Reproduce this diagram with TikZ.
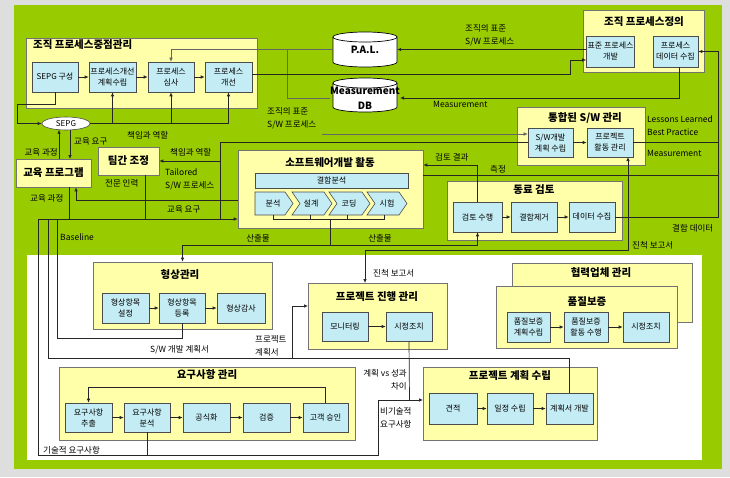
\documentclass[tikz,border=0pt]{standalone}
\usepackage{fontspec}
\setmainfont{Noto Sans CJK KR}
\usetikzlibrary{arrows.meta,shapes.geometric}
\definecolor{grn}{RGB}{153,204,0}
\definecolor{yel}{RGB}{255,255,170}
\definecolor{cyn}{RGB}{196,236,244}
\definecolor{bgg}{RGB}{222,222,222}
\newcommand\fsA{\fontsize{8}{11}\selectfont}
\newcommand\fsL{\fontsize{8.5}{11}\selectfont}
\newcommand\fsT{\fontsize{10.5}{12}\selectfont\bfseries}
\newcommand\mkbox[7]{%
  \pgfmathsetmacro\mbcx{(#3+#5)/2}\pgfmathsetmacro\mbcy{(#4+#6)/2}%
  \pgfmathsetmacro\mbw{#5-#3}\pgfmathsetmacro\mbh{#6-#4}%
  \node[#1,minimum width=\mbw pt,minimum height=\mbh pt] (#2) at (\mbcx,\mbcy) {#7};}
\tikzset{
  ybox/.style={draw=black!55, fill=yel, line width=0.6pt, rectangle, inner sep=2pt},
  bbox/.style={draw=black!70, fill=cyn, line width=0.6pt, rectangle, align=center, font=\fsA, inner sep=1pt},
  chev/.style={draw=black!70, fill=cyn, line width=0.6pt},
  cyl/.style={draw=black, fill=white, line width=0.7pt},
  lab/.style={font=\fsL, inner sep=0pt, align=left},
  ttl/.style={font=\fsT, inner sep=0pt},
  ln/.style={draw=black!85, line width=0.7pt},
  lnthin/.style={draw=black!60, line width=0.5pt},
  arr/.style={ln, -{Latex[length=4pt,width=3.5pt]}},
  arrthin/.style={lnthin, -{Latex[length=4pt,width=3.5pt]}},
}
\begin{document}
\begin{tikzpicture}[x=1pt,y=-1pt]
\useasboundingbox (0,0) rectangle (730,477);
\fill[bgg] (0,0) rectangle (730,477);
\fill[grn] (14,5) rectangle (722,469);
\fill[white] (27,255) rectangle (702,460);

% yellow boxes
\mkbox{ybox}{Y1}{26}{38}{257}{108}{}
\mkbox{ybox}{Y2}{583}{10}{704}{72}{}
\mkbox{ybox}{Y3}{517}{107}{645}{165}{}
\mkbox{ybox}{Y4}{238}{150}{423}{228}{}
\mkbox{ybox}{Y5}{447}{181}{622}{240}{}
\mkbox{ybox}{Y6}{93}{262}{272}{329}{}
\mkbox{ybox}{Y7}{308}{283}{447}{349}{}
\mkbox{ybox}{Y8}{512}{263}{692}{322}{}
\mkbox{ybox}{Y9}{496}{286}{677}{348}{}
\mkbox{ybox}{Y10}{59}{367}{355}{440}{}
\mkbox{ybox}{Y11}{423}{367}{597}{440}{}
\mkbox{ybox,font=\fsT}{edu}{16}{159}{91}{187}{교육 프로그램}
\mkbox{ybox,font=\fsT}{team}{98}{147}{159}{175}{팀간 조정}

% titles
\node[ttl, anchor=west] (t1) at (33,45) {조직 프로세스중점관리};
\node[ttl] (t2) at (644,22) {조직 프로세스정의};
\node[ttl] (t3) at (585,118) {통합된 S/W 관리};
\node[ttl] (t4) at (330,163) {소프트웨어개발 활동};
\node[ttl] (t5) at (534,190) {동료 검토};
\node[ttl] (t6) at (180,275) {형상관리};
\node[ttl] (t7) at (377,297) {프로젝트 진행 관리};
\node[ttl] (t8) at (601,273) {협력업체 관리};
\node[ttl] (t9) at (587,302) {품질보증};
\node[ttl] (t10) at (207,375) {요구사항 관리};
\node[ttl] (t11) at (510,376) {프로젝트 계획 수립};

% blue boxes
\mkbox{bbox}{b11}{32}{62}{78}{92}{SEPG 구성}
\mkbox{bbox}{b12}{89}{62}{136}{92}{프로세스개선\\계획수립}
\mkbox{bbox}{b13}{148}{62}{194}{92}{프로세스\\심사}
\mkbox{bbox}{b14}{205}{62}{252}{92}{프로세스\\개선}
\mkbox{bbox}{b21}{588}{36}{633}{67}{표준 프로세스\\개발}
\mkbox{bbox}{b22}{653}{36}{698}{67}{프로세스\\데이터 수집}
\mkbox{bbox}{b31}{528}{128}{573}{157}{S/W개발\\계획 수립}
\mkbox{bbox}{b32}{587}{128}{633}{157}{프로젝트\\활동 관리}
\mkbox{bbox}{bar}{255}{173}{408}{188}{결함분석}
\mkbox{bbox}{b51}{453}{202}{502}{232}{검토 수행}
\mkbox{bbox}{b52}{511}{202}{557}{232}{결함제거}
\mkbox{bbox}{b53}{569}{202}{615}{232}{데이터 수집}
\mkbox{bbox}{b61}{102}{293}{149}{323}{형상항목\\설정}
\mkbox{bbox}{b62}{159}{293}{205}{323}{형상항목\\등록}
\mkbox{bbox}{b63}{217}{293}{265}{323}{형상감사}
\mkbox{bbox}{b71}{322}{312}{368}{341}{모니터링}
\mkbox{bbox}{b72}{386}{312}{432}{341}{시정조치}
\mkbox{bbox}{b91}{507}{312}{550}{342}{품질보증\\계획수립}
\mkbox{bbox}{b92}{564}{312}{608}{342}{품질보증\\활동 수행}
\mkbox{bbox}{b93}{623}{312}{669}{342}{시정조치}
\mkbox{bbox}{b101}{65}{403}{112}{432}{요구사항\\추출}
\mkbox{bbox}{b102}{124}{403}{170}{432}{요구사항\\분석}
\mkbox{bbox}{b103}{183}{403}{230}{432}{공식화}
\mkbox{bbox}{b104}{243}{403}{290}{432}{검증}
\mkbox{bbox}{b105}{303}{403}{348}{432}{고객 승인}
\mkbox{bbox}{b111}{429}{393}{477}{424}{견적}
\mkbox{bbox}{b112}{487}{393}{533}{424}{일정 수립}
\mkbox{bbox}{b113}{546}{393}{593}{424}{계획서 개발}

% chevrons
\draw[chev] (255,192) -- (285,192) -- (293,203.5) -- (285,215) -- (255,215) -- cycle;
\draw[chev] (292,192) -- (324,192) -- (332,203.5) -- (324,215) -- (292,215) -- (300,203.5) -- cycle;
\draw[chev] (329,192) -- (362,192) -- (370,203.5) -- (362,215) -- (329,215) -- (337,203.5) -- cycle;
\draw[chev] (367,192) -- (399,192) -- (407,203.5) -- (399,215) -- (367,215) -- (375,203.5) -- cycle;
\node[font=\fsA, inner sep=0pt] (c1) at (273,203.5) {분석};
\node[font=\fsA, inner sep=0pt] (c2) at (311,203.5) {설계};
\node[font=\fsA, inner sep=0pt] (c3) at (349,203.5) {코딩};
\node[font=\fsA, inner sep=0pt] (c4) at (387,203.5) {시험};

% SEPG ellipse
\node[draw=black!70, fill=white, ellipse, minimum width=48pt, minimum height=13pt, inner sep=0pt, font=\fsA, line width=0.6pt] (sepg) at (66,123.5) {SEPG};

% cylinders
\path[cyl] (333,37) -- (333,62) arc[start angle=180, end angle=360, x radius=32pt, y radius=5pt] -- (397,37) arc[start angle=0, end angle=180, x radius=32pt, y radius=5pt] -- cycle;
\draw[cyl, fill=none] (333,37) arc[start angle=180, end angle=360, x radius=32pt, y radius=5pt];
\path[cyl] (333,83) -- (333,107) arc[start angle=180, end angle=360, x radius=32pt, y radius=5pt] -- (397,83) arc[start angle=0, end angle=180, x radius=32pt, y radius=5pt] -- cycle;
\draw[cyl, fill=none] (333,83) arc[start angle=180, end angle=360, x radius=32pt, y radius=5pt];
\node[inner sep=0pt, minimum width=64pt, minimum height=30pt, font=\fontsize{10}{11}\selectfont\bfseries] (pal) at (365,49.5) {P.A.L.};
\node[inner sep=0pt, minimum width=64pt, minimum height=30pt, align=center, font=\fontsize{10}{11}\selectfont\bfseries] (db) at (365,98) {Measurement\\[4pt]DB};

% connectors: 조직 프로세스중점관리
\draw[arr] (b11) -- (b12);
\draw[arr] (b12) -- (b13);
\draw[arr] (b13) -- (b14);
\draw[arr] (b11.south) |- (17,104) |- (sepg.west);
\draw[ln] (sepg.east) -- (b14.south |- sepg.east);
\draw[arr] (b12.south |- sepg.east) -- (b12.south);
\draw[arr] (b13.south |- sepg.east) -- (b13.south);
\draw[arr] (b14.south |- sepg.east) -- (b14.south);
\draw[arrthin] (pal.west) -| (b13.north);
\draw[lnthin] (db.west) -| (287,49.5);
\draw[arr] ([yshift=3pt]b14.east) -- (570,74) |- ([yshift=-8.5pt]b21.west);
\draw[arr] (b21.west |- pal.east) -- (pal.east);
\draw[arr] ([xshift=4pt]b22.south) |- (db.east);

% right side
\draw[arr] (b53.east) -- (718,217) |- (b22.east);
\draw[ln] (b32.east) -- (718,142.5);
\draw[ln] ([yshift=14pt]Y4.east) -- (718,175);
\draw[arr] (b31) -- (b32);
\draw[arr] (b51) -- (b52);
\draw[arr] (b52) -- (b53);
\draw[arr] (b51.north) |- ([yshift=24pt]Y4.east);
\coordinate (stdin) at (322,134);
\draw[arrthin] (stdin) -- (b31.west |- stdin);

% 산출물
\draw[ln] (273,215) -- (273,219) -- (384,219) -- (384,215);
\draw[ln] (310,215) -- (310,219);
\draw[ln] (347,215) -- (347,219);
\draw[ln] (330,219) -- (330,245);
\draw[arr] (330,245) -| (b51.south);
\draw[arr] (330,245) -| (Y6.north);

% 진척 보고서
\draw[arr] (365,250) -- (365,283);
\draw[arr] (365,250) -- (628,250) -- (628,157);

% left side merges
\draw[ln] (b31.west) -- (220,142.5) -- (220,219);
\draw[arr] (220,161) -- (team.east);
\draw[arr] (38,219) -- ([yshift=-30pt]Y4.west);
\draw[ln] ([xshift=15.5pt]edu.south) -- (69,219);
\draw[ln] ([xshift=16.5pt]team.south) -- (145,219);
\draw[arr] ([yshift=-11pt]Y4.west) -- (76,200) -- ([xshift=22.5pt]edu.south);
\draw[arr] ([xshift=5.5pt]edu.north) -- (59,129.7);
\draw[arr] (70,129.9) -- (70,159);

% lower region
\draw[arr] (b61) -- (b62);
\draw[arr] (b62) -- (b63);
\draw[arr] (b71) -- (b72);
\draw[arr] (b91) -- (b92);
\draw[arr] (b92) -- (b93);
\draw[arr] (b101) -- (b102);
\draw[arr] (b102) -- (b103);
\draw[arr] (b103) -- (b104);
\draw[arr] (b104) -- (b105);
\draw[arr] (b111) -- (b112);
\draw[arr] (b112) -- (b113);
\draw[ln] (b62.south) -- (182,338) -- (57,338) -- (57,219);
\draw[ln] (b113.north) -- (569.5,358) -- (48,358) -- (48,219);
\draw[arr] (292,358) -- (292,306) -- (308,306);
\draw[ln] (b102.south) -- (147,455) -- (38,455) -- (38,219);
\draw[arr] (147,455) -- (378,455) -- (378,400) -- (423,400);
\draw[ln] (b72.south) -- (409.5,400);
\draw[arr] (b105.north) -- (325.5,387) -- (88.5,387) -- (b101.north);

% labels
\node[lab, anchor=east] (l1) at (58,152) {교육 과정};
\node[lab, anchor=west] (l2) at (74,141) {교육 요구};
\node[lab, anchor=west] (l3) at (127,135) {책임과 역할};
\node[lab, anchor=west] (l4) at (170,152) {책임과 역할};
\node[lab, anchor=west] (l5) at (165,179.5) {Tailored\\[2pt]S/W 프로세스};
\node[lab, anchor=west] (l6) at (105,183) {전문 인력};
\node[lab, anchor=west] (l7) at (30,198) {교육 과정};
\node[lab, anchor=west] (l8) at (167,209) {교육 요구};
\node[lab, anchor=west] (l9) at (60,237) {Baseline};
\node[lab, anchor=west] (l10) at (267,118.5) {조직의 표준\\[2pt]S/W 프로세스};
\node[lab, anchor=west] (l11) at (465,35) {조직의 표준\\[2pt]S/W 프로세스};
\node[lab, anchor=west] (l12) at (433,104) {Measurement};
\node[lab, anchor=west] (l13) at (647,126) {Lessons Learned\\[2pt]Best Practice};
\node[lab, anchor=west] (l14) at (647,153) {Measurement};
\node[lab, anchor=west] (l15) at (435,157) {검토 결과};
\node[lab, anchor=west] (l16) at (490,169) {측정};
\node[lab, anchor=west] (l17) at (672,228) {결함 데이터};
\node[lab, anchor=west] (l18) at (632,245) {진척 보고서};
\node[lab] (l19) at (258,238) {산출물};
\node[lab] (l20) at (380,238) {산출물};
\node[lab, anchor=west] (l21) at (373,273) {진척 보고서};
\node[lab, anchor=west] (l22) at (150,350) {S/W 개발 계획서};
\node[lab, anchor=west] (l23) at (255,345.5) {프로젝트\\[2pt]계획서};
\node[lab, anchor=east, align=right] (l24) at (407,380) {계획 vs 성과\\[2pt]차이};
\node[lab, anchor=west] (l25) at (380,417.5) {비기술적\\[2pt]요구사항};
\node[lab, anchor=west] (l26) at (43,450) {기술적 요구사항};
\end{tikzpicture}
\end{document}
